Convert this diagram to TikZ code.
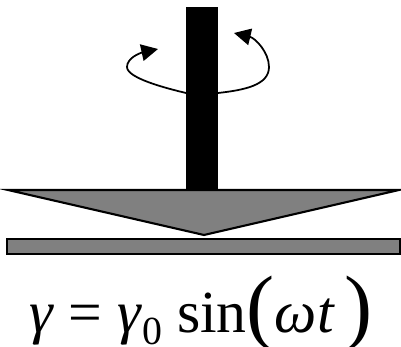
\documentclass[tikz,border=0pt]{standalone}
\usepackage{fontspec}
\setmainfont{Liberation Serif}
\usetikzlibrary{arrows.meta}
\newcommand{\bigparen}[1]{{\fontsize{72}{72}\selectfont\raisebox{-1.5pt}{#1}}}
\tikzset{
    part/.style={draw=black, fill=black!50!white, line width=1.8pt},
    twist/.style={line width=1.5pt, -{Triangle[length=5mm, width=5mm]}},
}

\begin{document}
\begin{tikzpicture}[x=.3mm, y=-.3mm]

    \useasboundingbox (0,0) rectangle (401,347);

    % shaft and cone
    \fill[black] (186,7) rectangle (218,190);
    \draw[part, line join=miter] (8,190) -- (399,190) -- (204,235) -- cycle;
    \draw[part] (7,239) rectangle (400,254);

    % rotation
    \coordinate (shaftl) at (186,93);
    \coordinate (shaftr) at (218,93);
    \coordinate (tipl) at (158,49);
    \coordinate (tipr) at (234,33);
    \draw[twist] (shaftl) .. controls (165,88) and (127,78) .. (127,67)
        .. controls (127,58) and (140,53) .. (tipl);
    \draw[twist] (shaftr) .. controls (245,90) and (269,85) .. (269,67)
        .. controls (269,52) and (255,38) .. (tipr);

    % formula
    \node[anchor=base, inner sep=0pt, font=\fontsize{51}{51}\selectfont] (formula) at (201,333)
        {\textit{γ} = \textit{γ}\raisebox{-10pt}{\fontsize{34}{34}\selectfont 0} sin\bigparen{(}\textit{ωt}\,\bigparen{)}};

\end{tikzpicture}
\end{document}
